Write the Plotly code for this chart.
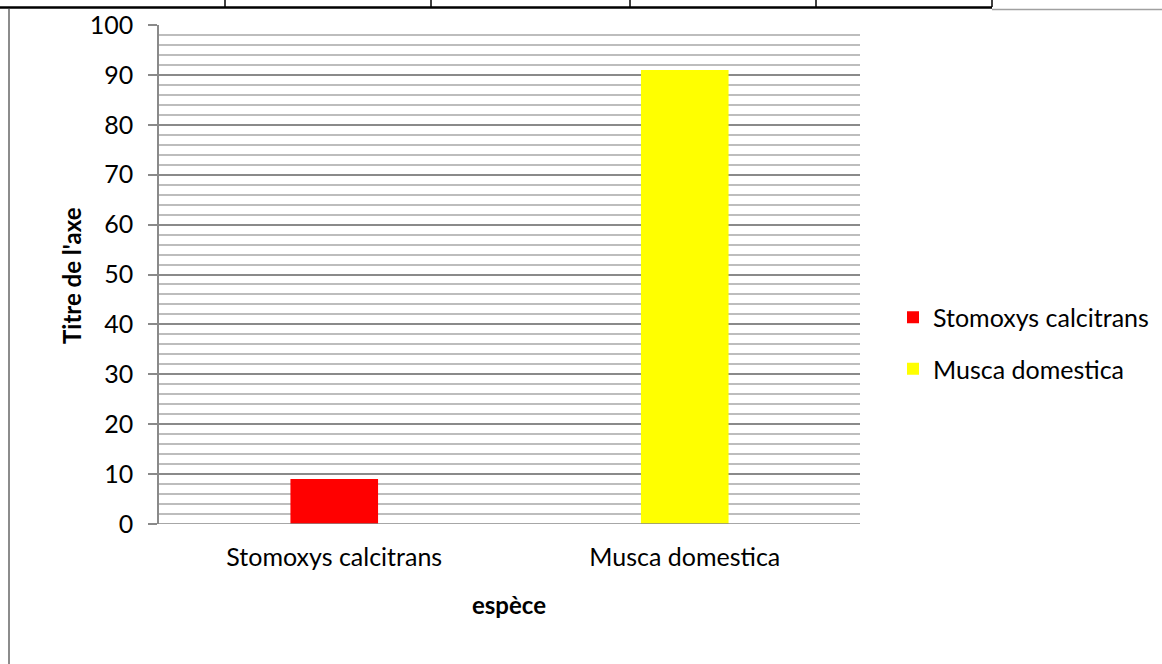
import plotly.graph_objects as go

# Share of each fly species (%)
species = ["Stomoxys calcitrans", "Musca domestica"]
values = [9, 91]
colors = ["#FF0000", "#FFFF00"]

y_ticks = [0, 10, 20, 30, 40, 50, 60, 70, 80, 90, 100]

FONT = "Lato"
W, H = 1162, 664
# plot area in pixels
PL, PR, PT, PB = 159, 860, 25, 524
PW, PH = PR - PL, PB - PT


def fx(px):
    return (px - PL) / PW


def fy(py):
    return (PB - py) / PH


fig = go.Figure()
for name, val, col in zip(species, values, colors):
    fig.add_trace(go.Bar(
        x=[name], y=[val], name=name, width=0.25,
        marker=dict(color=col, line=dict(width=0)),
        legendgroup=name,
    ))

fig.update_layout(
    width=W, height=H,
    margin=dict(l=PL, r=W - PR, t=PT, b=H - PB, autoexpand=False),
    paper_bgcolor="white", plot_bgcolor="white",
    barmode="overlay",
    font=dict(family=FONT, size=25, color="#000000"),
    showlegend=True,
    legend=dict(
        x=fx(893), y=fy(343), xanchor="left", yanchor="middle",
        font=dict(family=FONT, size=25, color="#000000"),
        traceorder="grouped", tracegroupgap=16,
        itemwidth=30, bgcolor="rgba(0,0,0,0)",
    ),
    xaxis=dict(
        type="category", categoryorder="array", categoryarray=species,
        showgrid=False, showline=False, ticks="",
        tickfont=dict(family=FONT, size=25),
        ticklabelstandoff=16, automargin=False,
    ),
    yaxis=dict(
        range=[0, 100], tickvals=y_ticks,
        showgrid=True, gridcolor="#8A8A8A", gridwidth=1.5,
        minor=dict(dtick=2, showgrid=True, gridcolor="#BDBDBD", gridwidth=1.5),
        showline=True, linecolor="#8A8A8A", linewidth=1.5,
        ticks="outside", ticklen=9, tickcolor="#8A8A8A", tickwidth=1.5,
        tickfont=dict(family=FONT, size=25),
        ticklabelstandoff=10, automargin=False,
        zeroline=False,
    ),
    annotations=[
        dict(text="<b>Titre de l'axe</b>", x=fx(71), y=fy(276),
             xref="paper", yref="paper", textangle=-90, showarrow=False,
             font=dict(family=FONT, size=24), xanchor="center", yanchor="middle"),
        dict(text="<b>espèce</b>", x=fx(509), y=fy(604),
             xref="paper", yref="paper", showarrow=False,
             font=dict(family=FONT, size=24), xanchor="center", yanchor="middle"),
    ],
)

# Baseline of the value axis
fig.add_shape(type="line", xref="paper", yref="y", x0=fx(150), x1=1, y0=0, y1=0,
              line=dict(color="#8A8A8A", width=1.5))


# Surrounding document table rules
def px_line(x0, y0, x1, y1, color, width):
    fig.add_shape(type="line", xref="paper", yref="paper",
                  x0=fx(x0), x1=fx(x1), y0=fy(y0), y1=fy(y1),
                  line=dict(color=color, width=width))


px_line(0, 7.5, 992, 7.5, "#000000", 2.5)
for xv in [225, 431, 630, 816, 992]:
    px_line(xv, 0, xv, 7, "#000000", 1.5)
px_line(992, 9.5, 1162, 9.5, "#A0A0A0", 1.5)
px_line(9, 9, 9, 664, "#8C8C8C", 2)

fig.write_html("out.html")
